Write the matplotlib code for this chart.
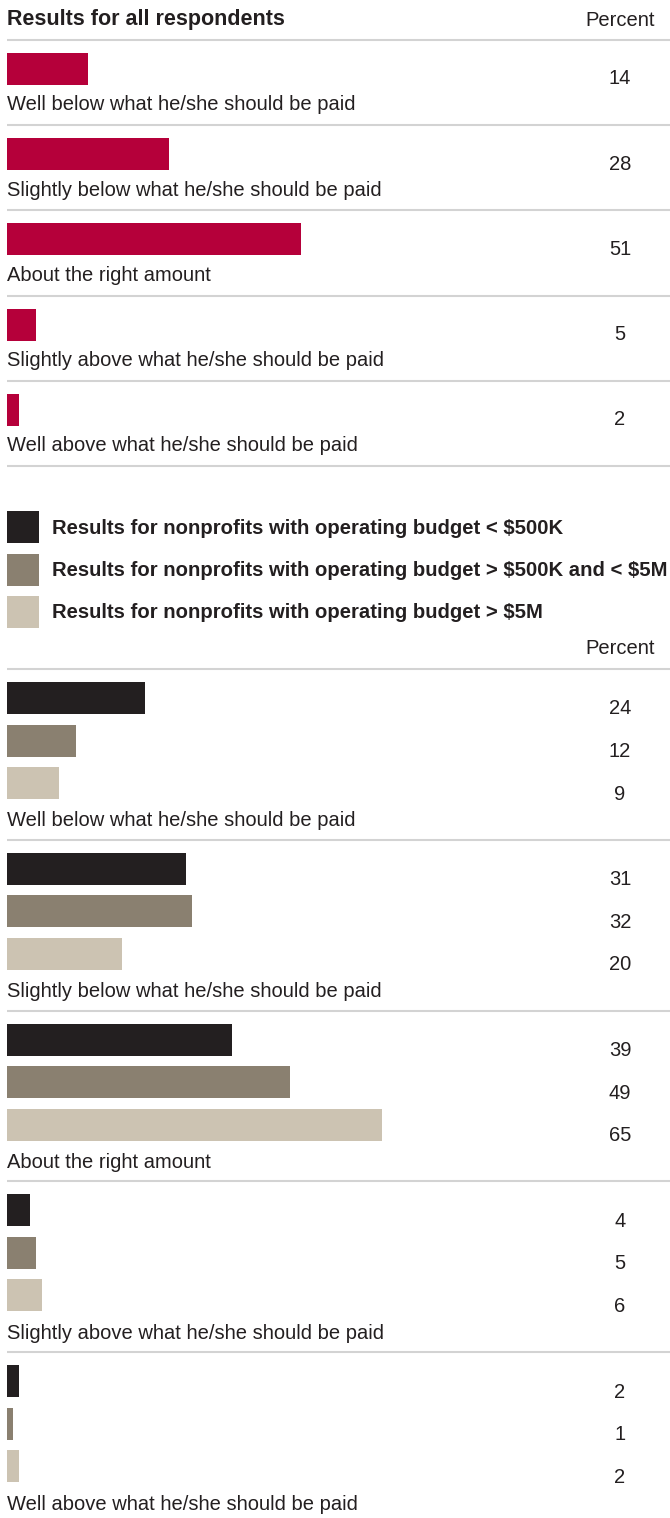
import matplotlib
matplotlib.use("Agg")
import matplotlib.pyplot as plt
from matplotlib.patches import Rectangle

plt.rcParams['font.family'] = ['Liberation Sans', 'DejaVu Sans']

categories = [
    "Well below what he/she should be paid",
    "Slightly below what he/she should be paid",
    "About the right amount",
    "Slightly above what he/she should be paid",
    "Well above what he/she should be paid",
]
all_respondents = [14, 28, 51, 5, 2]

series_names = [
    "Results for nonprofits with operating budget < \\$500K",
    "Results for nonprofits with operating budget > \\$500K and < \\$5M",
    "Results for nonprofits with operating budget > \\$5M",
]
budget_small = [24, 31, 39, 4, 2]
budget_mid = [12, 32, 49, 5, 1]
budget_large = [9, 20, 65, 6, 2]

red = "#b5003a"
series_colors = ["#231f20", "#8a8070", "#ccc3b2"]
line_color = "#d3d3d3"
text_color = "#231f20"

W, H = 670, 1518
SCALE = 5.77   # pixels per percent
X0 = 7         # left edge of bars in pixels

fig = plt.figure(figsize=(W / 100, H / 100), dpi=100)
ax = fig.add_axes([0, 0, 1, 1])
ax.set_xlim(-X0 / SCALE, (W - X0) / SCALE)
ax.set_ylim(H, 0)
ax.axis("off")


def px(x):
    # pixel x -> percent units
    return (x - X0) / SCALE


def hline(y):
    ax.plot([px(7), px(670)], [y, y], color=line_color, lw=1.5, solid_capstyle="butt")


fs = 14.5
val_x = px(620)

# top section
ax.text(px(7), 20, "Results for all respondents", fontsize=15.5, fontweight="bold",
        color=text_color, va="center", ha="left")
ax.text(px(655), 20, "Percent", fontsize=fs, color=text_color, va="center", ha="right")
hline(40)
for i, (cat, v) in enumerate(zip(categories, all_respondents)):
    top = 40 + i * 85.2
    ax.barh(top + 29, v, height=32, left=0, color=red)
    ax.text(val_x, top + 39, str(v), fontsize=fs, color=text_color, ha="center", va="center")
    ax.text(px(7), top + 65, cat, fontsize=fs, color=text_color, ha="left", va="center")
    hline(top + 85.2)

# legend
for j, (name, c) in enumerate(zip(series_names, series_colors)):
    yc = 527 + j * 42.5
    ax.add_patch(Rectangle((px(7), yc - 16), 32 / SCALE, 32, color=c, lw=0))
    ax.text(px(52), yc + 1, name, fontsize=14.6, fontweight="bold", color=text_color,
            ha="left", va="center")

ax.text(px(655), 648, "Percent", fontsize=fs, color=text_color, va="center", ha="right")
hline(669)

series = [budget_small, budget_mid, budget_large]
for i, cat in enumerate(categories):
    top = 669 + i * 170.8
    for j, (vals, c) in enumerate(zip(series, series_colors)):
        yc = top + 29 + j * 42.5
        ax.barh(yc, vals[i], height=32, left=0, color=c)
        ax.text(val_x, yc + 11, str(vals[i]), fontsize=fs, color=text_color,
                ha="center", va="center")
    ax.text(px(7), top + 152, cat, fontsize=fs, color=text_color, ha="left", va="center")
    if i < len(categories) - 1:
        hline(top + 170.8)

fig.savefig("out.png", dpi=100, facecolor="white")
